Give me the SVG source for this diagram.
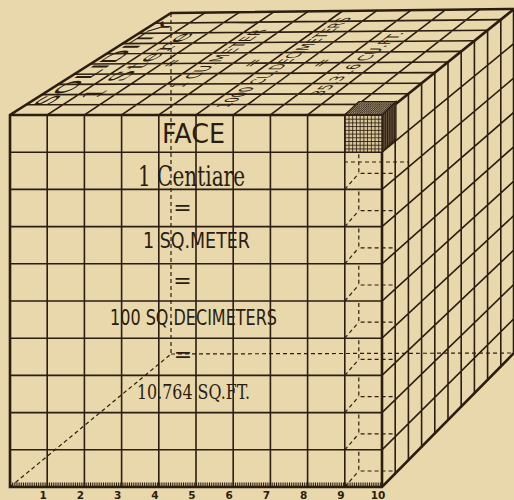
<svg xmlns="http://www.w3.org/2000/svg" width="514" height="500" viewBox="0 0 514 500">
  <style>
    .bg{fill:#e9d8ac}
    .ln{fill:none;stroke:#2b1d10;stroke-width:1.6;stroke-linecap:square}
    .ed{fill:none;stroke:#2b1d10;stroke-width:2.6;stroke-linejoin:miter}
    .hd{fill:none;stroke:#2b1d10;stroke-width:1.2;stroke-dasharray:4 3}
    .sans{font-family:"DejaVu Sans","Liberation Sans",sans-serif;fill:#2b1d10}
    .serif{font-family:"DejaVu Serif","Liberation Serif",serif;fill:#2b1d10}
    .eq{font-family:"DejaVu Sans","Liberation Sans",sans-serif;fill:#2b1d10;text-anchor:middle}
    .num{font-family:"DejaVu Sans","Liberation Sans",sans-serif;font-weight:bold;font-size:10.5px;text-anchor:middle;fill:#2b1d10}
  </style>
  <defs>
    <!-- fine 10x10 mesh for the front of the decimetre cube -->
    <pattern id="mesh" patternUnits="userSpaceOnUse" x="344.8" y="115" width="3.72" height="3.72">
      <rect width="3.72" height="3.72" fill="#d8c69a"/>
      <path d="M0 0.4H3.72M0.4 0V3.72" stroke="#2b1d10" stroke-width="0.9"/>
    </pattern>
    <pattern id="hatchTop" patternUnits="userSpaceOnUse" width="2.2" height="2.2">
      <rect width="2.2" height="2.2" fill="#a8977a"/>
      <path d="M0 2.2L2.2 0" stroke="#2b1d10" stroke-width="0.9"/>
    </pattern>
    <pattern id="hatchSide" patternUnits="userSpaceOnUse" width="1.8" height="1.8">
      <rect width="1.8" height="1.8" fill="#6e5d45"/>
      <path d="M0.5 0V1.8" stroke="#2b1d10" stroke-width="1"/>
    </pattern>
  </defs>

  <rect class="bg" width="514" height="500"/>

  <!-- front face: 10 x 10 square decimetres -->
  <g id="front-face">
    <path class="ln" d="M47.2 115V487M84.4 115V487M121.6 115V487M158.8 115V487M196 115V487M233.2 115V487M270.4 115V487M307.6 115V487M344.8 115V487
      M10 152.2H382M10 189.4H382M10 226.6H382M10 263.8H382M10 301H382M10 338.2H382M10 375.4H382M10 412.6H382M10 449.8H382"/>
  </g>

  <!-- top face in perspective -->
  <g id="top-face">
    <path class="ln" d="M47.2 115L205.3 12.6M84.4 115L239.6 12.2M121.6 115L273.9 11.8M158.8 115L308.2 11.4M196 115L342.5 11M233.2 115L376.8 10.6M270.4 115L411.1 10.2M307.6 115L445.4 9.8M344.8 115L479.7 9.4
      M26.1 104.8L395.2 104.4M42.2 94.6L408.4 93.8M58.3 84.4L421.6 83.2M74.4 74.2L434.8 72.6M90.5 64L448 62M106.6 53.8L461.2 51.4M122.7 43.6L474.4 40.8M138.8 33.4L487.6 30.2M154.9 23.2L500.8 19.6"/>
  </g>

  <!-- right face in perspective -->
  <g id="right-face">
    <path class="ln" d="M395.2 104.4V473.6M408.4 93.8V460.2M421.6 83.2V446.8M434.8 72.6V433.4M448 62V420M461.2 51.4V406.6M474.4 40.8V393.2M487.6 30.2V379.8M500.8 19.6V366.4
      M382 152.2L514 43.4M382 189.4L514 77.8M382 226.6L514 112.2M382 263.8L514 146.6M382 301L514 181M382 338.2L514 215.4M382 375.4L514 249.8M382 412.6L514 284.2M382 449.8L514 318.6"/>
  </g>

  <!-- hidden edges of the cube and of the right-hand column of cubes -->
  <g id="hidden-edges">
    <path class="hd" d="M171 13V354M171 354L514 353M10 487L171 354"/>
    <path class="hd" d="M344 162H408
      M344.8 189.4L358.8 173.4M358.8 154.2V173.4H396
      M344.8 226.6L358.8 210.6M358.8 191.4V210.6H396
      M344.8 263.8L358.8 247.8M358.8 228.6V247.8H396
      M344.8 301L358.8 285M358.8 265.8V285H396
      M344.8 338.2L358.8 322.2M358.8 303V322.2H396
      M344.8 375.4L358.8 359.4M358.8 340.2V359.4H396
      M344.8 412.6L358.8 396.6M358.8 377.4V396.6H396
      M344.8 449.8L358.8 433.8M358.8 414.6V433.8H396
      M344.8 487L358.8 471M358.8 451.8V471H396"/>
  </g>

  <!-- outline of the cubic metre -->
  <g id="cube-outline">
    <path class="ed" d="M10 487V115L171 13L514 9V353L382 487H10ZM10 115H382V487M382 115L514 9"/>
  </g>

  <!-- the single cubic decimetre in the corner -->
  <g id="corner-cube">
    <path d="M358.8 101.5H396L382 115H344.8Z" fill="url(#hatchTop)" stroke="#2b1d10" stroke-width="1.2"/>
    <path d="M382 115L396 101.5V138.7L382 152.2Z" fill="url(#hatchSide)" stroke="#2b1d10" stroke-width="1.2"/>
    <rect x="344.8" y="115" width="37.2" height="37.2" fill="url(#mesh)" stroke="#2b1d10" stroke-width="1.4"/>
  </g>

  <!-- inscriptions on the top face -->
  <g id="top-labels">
    <text class="sans" font-size="22" transform="matrix(0.842 -0.539 1 0 46 106.3)" textLength="158" lengthAdjust="spacingAndGlyphs">SOLIDITY</text>
    <text class="serif" font-size="23" transform="matrix(0.8364 -0.5478 1 0 93.5 99.6)" textLength="123" lengthAdjust="spacingAndGlyphs">1 Stere</text>
    <text class="eq" font-size="18" transform="matrix(0.8306 -0.5565 1 0 177.4 63)">=</text>
    <text class="sans" font-size="17" transform="matrix(0.8248 -0.5653 1 0 181.5 88.1)" textLength="104" lengthAdjust="spacingAndGlyphs">1 CU.METER</text>
    <text class="eq" font-size="18" transform="matrix(0.8187 -0.5744 1 0 258.4 63)">=</text>
    <text class="sans" font-size="17" transform="matrix(0.8122 -0.5834 1 0 226.9 107.7)" textLength="155" lengthAdjust="spacingAndGlyphs">1000 CU.DECIMETERS</text>
    <text class="eq" font-size="18" transform="matrix(0.8054 -0.5926 1 0 327.4 63)">=</text>
    <text class="sans" font-size="17" transform="matrix(0.7985 -0.6021 1 0 320.2 96.1)" textLength="106" lengthAdjust="spacingAndGlyphs">35.316 CU.FT.</text>
  </g>

  <!-- inscriptions on the front face -->
  <g id="front-labels">
    <text class="sans" x="162" y="143.3" font-size="27.4" textLength="63" lengthAdjust="spacingAndGlyphs">FACE</text>
    <text class="serif" x="138" y="185.5" font-size="27.4" textLength="107" lengthAdjust="spacingAndGlyphs">1 Centiare</text>
    <text class="eq" x="182.5" y="215" font-size="22">=</text>
    <text class="sans" x="143" y="248" font-size="20.6" textLength="107" lengthAdjust="spacingAndGlyphs">1 SQ.METER</text>
    <text class="eq" x="182.5" y="288" font-size="22">=</text>
    <text class="sans" x="110" y="325" font-size="21.5" textLength="167" lengthAdjust="spacingAndGlyphs">100 SQ.DECIMETERS</text>
    <text class="eq" x="183" y="362" font-size="22">=</text>
    <text class="serif" x="137" y="398.5" font-size="20.6" textLength="113" lengthAdjust="spacingAndGlyphs">10.764 SQ.FT.</text>
  </g>

  <!-- decimetre scale along the bottom edge -->
  <g id="scale">
    <path d="M10 484.5H382" stroke="#2b1d10" stroke-width="4" stroke-dasharray="1 0.86"/>
    <text class="num" x="43.2" y="498.5">1</text>
    <text class="num" x="80.4" y="498.5">2</text>
    <text class="num" x="117.6" y="498.5">3</text>
    <text class="num" x="154.8" y="498.5">4</text>
    <text class="num" x="192" y="498.5">5</text>
    <text class="num" x="229.2" y="498.5">6</text>
    <text class="num" x="266.4" y="498.5">7</text>
    <text class="num" x="303.6" y="498.5">8</text>
    <text class="num" x="340.8" y="498.5">9</text>
    <text class="num" x="378" y="498.5">10</text>
  </g>
</svg>
